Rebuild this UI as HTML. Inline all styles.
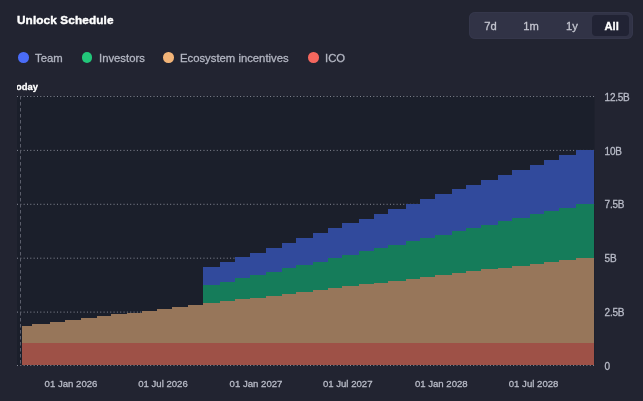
<!DOCTYPE html>
<html><head><meta charset="utf-8"><style>
html,body{margin:0;padding:0}
body{width:643px;height:401px;background:#222431;position:relative;overflow:hidden;font-family:"Liberation Sans",sans-serif}
.t{position:absolute;white-space:nowrap;line-height:1}
.title{left:17px;top:14.6px;font-size:11.8px;letter-spacing:0.1px;font-weight:bold;color:#fff;-webkit-text-stroke:0.4px #fff}
.lg{position:absolute;top:53.2px;height:11px;line-height:11px;font-size:11.3px;color:#b3b6c2;white-space:nowrap;-webkit-text-stroke:0.3px #b3b6c2}
.dot{position:absolute;width:10.6px;height:10.6px;border-radius:50%}
.tog{position:absolute;left:469px;top:12px;width:164px;height:27px;border-radius:6px;background:#313346;box-shadow:inset 0 0 0 1px #35374b}
.btn{position:absolute;top:3px;height:21px;line-height:22px;text-align:center;font-size:11.2px;color:#c3c5cf;-webkit-text-stroke:0.3px #c3c5cf}
.act{background:#212334;border-radius:4px;color:#fff;font-weight:bold;-webkit-text-stroke:0.3px #fff}
svg{position:absolute;left:0;top:0}
.gs{will-change:transform}
.ax{font-size:9.6px;fill:#b8bbc7;stroke:#b8bbc7;stroke-width:0.3px;font-family:"Liberation Sans",sans-serif}
</style></head><body>
<svg class="gs" width="643" height="401" viewBox="0 0 643 401">
<defs><clipPath id="pc"><rect x="17" y="0" width="578" height="401"/></clipPath></defs>
<rect x="17" y="96" width="577.5" height="270" fill="#1b1f2b"/>
<line x1="17" y1="96.5" x2="595" y2="96.5" stroke="#868995" stroke-width="1" stroke-dasharray="1 2.33"/>
<line x1="17" y1="150.4" x2="595" y2="150.4" stroke="#868995" stroke-width="1" stroke-dasharray="1 2.33"/>
<line x1="17" y1="204.3" x2="595" y2="204.3" stroke="#868995" stroke-width="1" stroke-dasharray="1 2.33"/>
<line x1="17" y1="258.2" x2="595" y2="258.2" stroke="#868995" stroke-width="1" stroke-dasharray="1 2.33"/>
<line x1="17" y1="312.1" x2="595" y2="312.1" stroke="#868995" stroke-width="1" stroke-dasharray="1 2.33"/>
<path d="M22.00,342.96 L32.40,342.96 L32.40,342.96 L49.90,342.96 L49.90,342.96 L64.70,342.96 L64.70,342.96 L81.00,342.96 L81.00,342.96 L96.60,342.96 L96.60,342.96 L111.10,342.96 L111.10,342.96 L126.50,342.96 L126.50,342.96 L141.90,342.96 L141.90,342.96 L157.30,342.96 L157.30,342.96 L171.90,342.96 L171.90,342.96 L188.10,342.96 L188.10,342.96 L202.70,342.96 L202.70,342.96 L220.20,342.96 L220.20,342.96 L234.80,342.96 L234.80,342.96 L249.80,342.96 L249.80,342.96 L266.30,342.96 L266.30,342.96 L281.50,342.96 L281.50,342.96 L296.40,342.96 L296.40,342.96 L313.20,342.96 L313.20,342.96 L328.00,342.96 L328.00,342.96 L341.70,342.96 L341.70,342.96 L359.40,342.96 L359.40,342.96 L373.90,342.96 L373.90,342.96 L388.30,342.96 L388.30,342.96 L405.70,342.96 L405.70,342.96 L420.20,342.96 L420.20,342.96 L434.70,342.96 L434.70,342.96 L451.50,342.96 L451.50,342.96 L466.40,342.96 L466.40,342.96 L480.60,342.96 L480.60,342.96 L497.70,342.96 L497.70,342.96 L511.70,342.96 L511.70,342.96 L529.50,342.96 L529.50,342.96 L544.40,342.96 L544.40,342.96 L559.30,342.96 L559.30,342.96 L576.10,342.96 L576.10,342.96 L594.30,342.96 L594.30,365.00 L576.10,365.00 L576.10,365.00 L559.30,365.00 L559.30,365.00 L544.40,365.00 L544.40,365.00 L529.50,365.00 L529.50,365.00 L511.70,365.00 L511.70,365.00 L497.70,365.00 L497.70,365.00 L480.60,365.00 L480.60,365.00 L466.40,365.00 L466.40,365.00 L451.50,365.00 L451.50,365.00 L434.70,365.00 L434.70,365.00 L420.20,365.00 L420.20,365.00 L405.70,365.00 L405.70,365.00 L388.30,365.00 L388.30,365.00 L373.90,365.00 L373.90,365.00 L359.40,365.00 L359.40,365.00 L341.70,365.00 L341.70,365.00 L328.00,365.00 L328.00,365.00 L313.20,365.00 L313.20,365.00 L296.40,365.00 L296.40,365.00 L281.50,365.00 L281.50,365.00 L266.30,365.00 L266.30,365.00 L249.80,365.00 L249.80,365.00 L234.80,365.00 L234.80,365.00 L220.20,365.00 L220.20,365.00 L202.70,365.00 L202.70,365.00 L188.10,365.00 L188.10,365.00 L171.90,365.00 L171.90,365.00 L157.30,365.00 L157.30,365.00 L141.90,365.00 L141.90,365.00 L126.50,365.00 L126.50,365.00 L111.10,365.00 L111.10,365.00 L96.60,365.00 L96.60,365.00 L81.00,365.00 L81.00,365.00 L64.70,365.00 L64.70,365.00 L49.90,365.00 L49.90,365.00 L32.40,365.00 L32.40,365.00 L22.00,365.00 Z" fill="#9e5147" shape-rendering="crispEdges"/>
<path d="M22.00,325.60 L32.40,325.60 L32.40,323.73 L49.90,323.73 L49.90,321.86 L64.70,321.86 L64.70,319.98 L81.00,319.98 L81.00,318.11 L96.60,318.11 L96.60,316.24 L111.10,316.24 L111.10,314.37 L126.50,314.37 L126.50,312.50 L141.90,312.50 L141.90,310.62 L157.30,310.62 L157.30,308.75 L171.90,308.75 L171.90,306.88 L188.10,306.88 L188.10,305.01 L202.70,305.01 L202.70,303.14 L220.20,303.14 L220.20,301.26 L234.80,301.26 L234.80,299.39 L249.80,299.39 L249.80,297.52 L266.30,297.52 L266.30,295.65 L281.50,295.65 L281.50,293.78 L296.40,293.78 L296.40,291.90 L313.20,291.90 L313.20,290.03 L328.00,290.03 L328.00,288.16 L341.70,288.16 L341.70,286.29 L359.40,286.29 L359.40,284.42 L373.90,284.42 L373.90,282.54 L388.30,282.54 L388.30,280.67 L405.70,280.67 L405.70,278.80 L420.20,278.80 L420.20,276.93 L434.70,276.93 L434.70,275.06 L451.50,275.06 L451.50,273.18 L466.40,273.18 L466.40,271.31 L480.60,271.31 L480.60,269.44 L497.70,269.44 L497.70,267.57 L511.70,267.57 L511.70,265.70 L529.50,265.70 L529.50,263.82 L544.40,263.82 L544.40,261.95 L559.30,261.95 L559.30,260.08 L576.10,260.08 L576.10,258.21 L594.30,258.21 L594.30,342.96 L576.10,342.96 L576.10,342.96 L559.30,342.96 L559.30,342.96 L544.40,342.96 L544.40,342.96 L529.50,342.96 L529.50,342.96 L511.70,342.96 L511.70,342.96 L497.70,342.96 L497.70,342.96 L480.60,342.96 L480.60,342.96 L466.40,342.96 L466.40,342.96 L451.50,342.96 L451.50,342.96 L434.70,342.96 L434.70,342.96 L420.20,342.96 L420.20,342.96 L405.70,342.96 L405.70,342.96 L388.30,342.96 L388.30,342.96 L373.90,342.96 L373.90,342.96 L359.40,342.96 L359.40,342.96 L341.70,342.96 L341.70,342.96 L328.00,342.96 L328.00,342.96 L313.20,342.96 L313.20,342.96 L296.40,342.96 L296.40,342.96 L281.50,342.96 L281.50,342.96 L266.30,342.96 L266.30,342.96 L249.80,342.96 L249.80,342.96 L234.80,342.96 L234.80,342.96 L220.20,342.96 L220.20,342.96 L202.70,342.96 L202.70,342.96 L188.10,342.96 L188.10,342.96 L171.90,342.96 L171.90,342.96 L157.30,342.96 L157.30,342.96 L141.90,342.96 L141.90,342.96 L126.50,342.96 L126.50,342.96 L111.10,342.96 L111.10,342.96 L96.60,342.96 L96.60,342.96 L81.00,342.96 L81.00,342.96 L64.70,342.96 L64.70,342.96 L49.90,342.96 L49.90,342.96 L32.40,342.96 L32.40,342.96 L22.00,342.96 Z" fill="#97765a" shape-rendering="crispEdges"/>
<path d="M22.00,325.60 L32.40,325.60 L32.40,323.73 L49.90,323.73 L49.90,321.86 L64.70,321.86 L64.70,319.98 L81.00,319.98 L81.00,318.11 L96.60,318.11 L96.60,316.24 L111.10,316.24 L111.10,314.37 L126.50,314.37 L126.50,312.50 L141.90,312.50 L141.90,310.62 L157.30,310.62 L157.30,308.75 L171.90,308.75 L171.90,306.88 L188.10,306.88 L188.10,305.01 L202.70,305.01 L202.70,285.18 L220.20,285.18 L220.20,281.81 L234.80,281.81 L234.80,278.44 L249.80,278.44 L249.80,275.07 L266.30,275.07 L266.30,271.70 L281.50,271.70 L281.50,268.34 L296.40,268.34 L296.40,264.97 L313.20,264.97 L313.20,261.60 L328.00,261.60 L328.00,258.23 L341.70,258.23 L341.70,254.86 L359.40,254.86 L359.40,251.49 L373.90,251.49 L373.90,248.12 L388.30,248.12 L388.30,244.76 L405.70,244.76 L405.70,241.39 L420.20,241.39 L420.20,238.02 L434.70,238.02 L434.70,234.65 L451.50,234.65 L451.50,231.28 L466.40,231.28 L466.40,227.91 L480.60,227.91 L480.60,224.54 L497.70,224.54 L497.70,221.18 L511.70,221.18 L511.70,217.81 L529.50,217.81 L529.50,214.44 L544.40,214.44 L544.40,211.07 L559.30,211.07 L559.30,207.70 L576.10,207.70 L576.10,204.33 L594.30,204.33 L594.30,258.21 L576.10,258.21 L576.10,260.08 L559.30,260.08 L559.30,261.95 L544.40,261.95 L544.40,263.82 L529.50,263.82 L529.50,265.70 L511.70,265.70 L511.70,267.57 L497.70,267.57 L497.70,269.44 L480.60,269.44 L480.60,271.31 L466.40,271.31 L466.40,273.18 L451.50,273.18 L451.50,275.06 L434.70,275.06 L434.70,276.93 L420.20,276.93 L420.20,278.80 L405.70,278.80 L405.70,280.67 L388.30,280.67 L388.30,282.54 L373.90,282.54 L373.90,284.42 L359.40,284.42 L359.40,286.29 L341.70,286.29 L341.70,288.16 L328.00,288.16 L328.00,290.03 L313.20,290.03 L313.20,291.90 L296.40,291.90 L296.40,293.78 L281.50,293.78 L281.50,295.65 L266.30,295.65 L266.30,297.52 L249.80,297.52 L249.80,299.39 L234.80,299.39 L234.80,301.26 L220.20,301.26 L220.20,303.14 L202.70,303.14 L202.70,305.01 L188.10,305.01 L188.10,306.88 L171.90,306.88 L171.90,308.75 L157.30,308.75 L157.30,310.62 L141.90,310.62 L141.90,312.50 L126.50,312.50 L126.50,314.37 L111.10,314.37 L111.10,316.24 L96.60,316.24 L96.60,318.11 L81.00,318.11 L81.00,319.98 L64.70,319.98 L64.70,321.86 L49.90,321.86 L49.90,323.73 L32.40,323.73 L32.40,325.60 L22.00,325.60 Z" fill="#157c5a" shape-rendering="crispEdges"/>
<path d="M22.00,325.60 L32.40,325.60 L32.40,323.73 L49.90,323.73 L49.90,321.86 L64.70,321.86 L64.70,319.98 L81.00,319.98 L81.00,318.11 L96.60,318.11 L96.60,316.24 L111.10,316.24 L111.10,314.37 L126.50,314.37 L126.50,312.50 L141.90,312.50 L141.90,310.62 L157.30,310.62 L157.30,308.75 L171.90,308.75 L171.90,306.88 L188.10,306.88 L188.10,305.01 L202.70,305.01 L202.70,267.22 L220.20,267.22 L220.20,262.35 L234.80,262.35 L234.80,257.49 L249.80,257.49 L249.80,252.62 L266.30,252.62 L266.30,247.76 L281.50,247.76 L281.50,242.89 L296.40,242.89 L296.40,238.03 L313.20,238.03 L313.20,233.16 L328.00,233.16 L328.00,228.30 L341.70,228.30 L341.70,223.43 L359.40,223.43 L359.40,218.57 L373.90,218.57 L373.90,213.70 L388.30,213.70 L388.30,208.84 L405.70,208.84 L405.70,203.97 L420.20,203.97 L420.20,199.11 L434.70,199.11 L434.70,194.24 L451.50,194.24 L451.50,189.38 L466.40,189.38 L466.40,184.51 L480.60,184.51 L480.60,179.65 L497.70,179.65 L497.70,174.78 L511.70,174.78 L511.70,169.92 L529.50,169.92 L529.50,165.05 L544.40,165.05 L544.40,160.19 L559.30,160.19 L559.30,155.32 L576.10,155.32 L576.10,150.46 L594.30,150.46 L594.30,204.33 L576.10,204.33 L576.10,207.70 L559.30,207.70 L559.30,211.07 L544.40,211.07 L544.40,214.44 L529.50,214.44 L529.50,217.81 L511.70,217.81 L511.70,221.18 L497.70,221.18 L497.70,224.54 L480.60,224.54 L480.60,227.91 L466.40,227.91 L466.40,231.28 L451.50,231.28 L451.50,234.65 L434.70,234.65 L434.70,238.02 L420.20,238.02 L420.20,241.39 L405.70,241.39 L405.70,244.76 L388.30,244.76 L388.30,248.12 L373.90,248.12 L373.90,251.49 L359.40,251.49 L359.40,254.86 L341.70,254.86 L341.70,258.23 L328.00,258.23 L328.00,261.60 L313.20,261.60 L313.20,264.97 L296.40,264.97 L296.40,268.34 L281.50,268.34 L281.50,271.70 L266.30,271.70 L266.30,275.07 L249.80,275.07 L249.80,278.44 L234.80,278.44 L234.80,281.81 L220.20,281.81 L220.20,285.18 L202.70,285.18 L202.70,305.01 L188.10,305.01 L188.10,306.88 L171.90,306.88 L171.90,308.75 L157.30,308.75 L157.30,310.62 L141.90,310.62 L141.90,312.50 L126.50,312.50 L126.50,314.37 L111.10,314.37 L111.10,316.24 L96.60,316.24 L96.60,318.11 L81.00,318.11 L81.00,319.98 L64.70,319.98 L64.70,321.86 L49.90,321.86 L49.90,323.73 L32.40,323.73 L32.40,325.60 L22.00,325.60 Z" fill="#314a9c" shape-rendering="crispEdges"/>
<line x1="17" y1="365.5" x2="595" y2="365.5" stroke="#868995" stroke-width="1" stroke-dasharray="1 2.33"/>
<line x1="20.5" y1="96" x2="20.5" y2="366" stroke="#5a5d6a" stroke-width="1" stroke-dasharray="3.5 2.5"/>
<g clip-path="url(#pc)"><text x="11" y="89.6" font-size="9.4" font-weight="bold" fill="#fff" stroke="#fff" stroke-width="0.3" font-family="Liberation Sans, sans-serif">Today</text></g>
<text x="604.6" y="100.6" class="ax" style="font-size:10px;letter-spacing:-0.25px">12.5B</text>
<text x="604.6" y="154.5" class="ax" style="font-size:10px;letter-spacing:-0.25px">10B</text>
<text x="604.6" y="208.4" class="ax" style="font-size:10px;letter-spacing:-0.25px">7.5B</text>
<text x="604.6" y="262.3" class="ax" style="font-size:10px;letter-spacing:-0.25px">5B</text>
<text x="604.6" y="316.2" class="ax" style="font-size:10px;letter-spacing:-0.25px">2.5B</text>
<text x="604.6" y="370.1" class="ax" style="font-size:10px;letter-spacing:-0.25px">0</text>
<text x="71" y="387" class="ax" text-anchor="middle">01 Jan 2026</text>
<text x="163" y="387" class="ax" text-anchor="middle">01 Jul 2026</text>
<text x="256" y="387" class="ax" text-anchor="middle">01 Jan 2027</text>
<text x="347.7" y="387" class="ax" text-anchor="middle">01 Jul 2027</text>
<text x="441.3" y="387" class="ax" text-anchor="middle">01 Jan 2028</text>
<text x="533.6" y="387" class="ax" text-anchor="middle">01 Jul 2028</text>
</svg>
<div class="t title gs">Unlock Schedule</div>
<div class="dot" style="left:18.2px;top:52.3px;background:#4a6cf7"></div><div class="lg gs" style="left:35px">Team</div>
<div class="dot" style="left:81.7px;top:52.3px;background:#22c77a"></div><div class="lg gs" style="left:99px">Investors</div>
<div class="dot" style="left:163.4px;top:52.3px;background:#f2b478"></div><div class="lg gs" style="left:180px">Ecosystem incentives</div>
<div class="dot" style="left:308px;top:52.3px;background:#f4675e"></div><div class="lg gs" style="left:324.5px">ICO</div>
<div class="tog gs">
<div class="btn" style="left:1.5px;width:40px">7d</div>
<div class="btn" style="left:42px;width:40px">1m</div>
<div class="btn" style="left:83px;width:40px">1y</div>
<div class="btn act" style="left:123px;width:37px"><span style="position:relative;left:1.2px">All</span></div>
</div>
</body></html>
